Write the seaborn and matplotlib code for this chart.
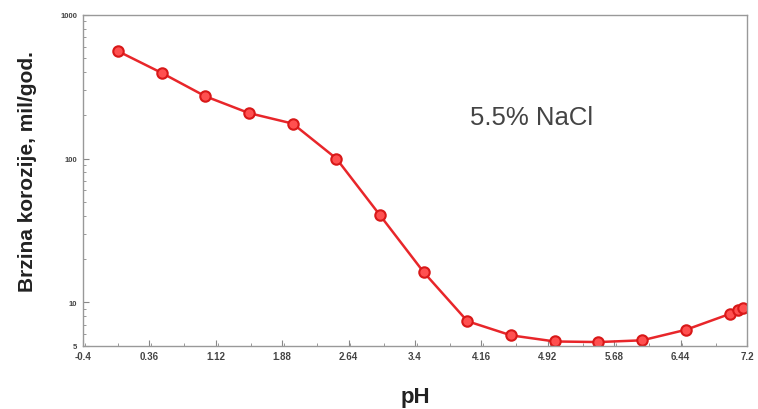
import matplotlib
matplotlib.use("Agg")
import matplotlib.pyplot as plt
import matplotlib.ticker as mticker
import pandas as pd
import seaborn as sns

# values
ph = [0.0, 0.5, 1.0, 1.5, 2.0, 2.5, 3.0, 3.5, 4.0, 4.5, 5.0, 5.5, 6.0, 6.5, 7.0, 7.1, 7.15]
rate = [558, 394, 271, 207, 175, 100, 40.3, 16.2, 7.4, 5.9, 5.35, 5.3, 5.45, 6.45, 8.3, 8.8, 9.15]

x_ticks = [-0.4, 0.36, 1.12, 1.88, 2.64, 3.4, 4.16, 4.92, 5.68, 6.44, 7.2]
x_tick_labels = ["-0.4", "0.36", "1.12", "1.88", "2.64", "3.4", "4.16", "4.92", "5.68", "6.44", "7.2"]
y_ticks = [5, 10, 100, 1000]
y_tick_labels = ["5", "10", "100", "1000"]

df = pd.DataFrame({"pH": ph, "rate": rate})

sns.set_style("ticks")
plt.rcParams["font.family"] = ["Liberation Sans", "DejaVu Sans"]

fig = plt.figure(figsize=(7.58, 4.10), dpi=100)
ax = fig.add_axes([0.1095, 0.1544, 0.876, 0.8073])

sns.lineplot(
    data=df,
    x="pH",
    y="rate",
    ax=ax,
    color="#e8262a",
    linewidth=1.8,
    marker="o",
    markersize=7.5,
    markerfacecolor="#ff5050",
    markeredgecolor="#d81818",
    markeredgewidth=1.5,
)

ax.set_yscale("log")
ax.set_xlim(-0.4, 7.2)
ax.set_ylim(5, 1000)

ax.set_xticks(x_ticks)
ax.set_xticklabels(x_tick_labels, fontsize=7, fontweight="bold", color="#444444")
ax.xaxis.set_minor_locator(mticker.MultipleLocator(0.38))

ax.set_yticks(y_ticks)
ax.set_yticklabels(y_tick_labels, fontsize=5.5, fontweight="bold", color="#444444")
ax.yaxis.set_minor_locator(mticker.LogLocator(base=10, subs=range(2, 10)))
ax.yaxis.set_minor_formatter(mticker.NullFormatter())

ax.tick_params(axis="both", which="major", direction="in", length=4, width=0.8, color="#888888", pad=4)
ax.tick_params(axis="both", which="minor", direction="in", length=2, width=0.6, color="#888888")

for side in ["left", "bottom", "top", "right"]:
    ax.spines[side].set_color("#999999")
    ax.spines[side].set_linewidth(1.0)

ax.set_xlabel("pH", fontsize=16, fontweight="bold", color="#222222", labelpad=18)
ax.set_ylabel("Brzina korozije, mil/god.", fontsize=15, fontweight="bold", color="#222222")
ax.yaxis.set_label_coords(-0.07, 0.53)

ax.text(0.583, 0.691, "5.5% NaCl", transform=ax.transAxes, fontsize=18.5,
        color="#444444", va="center", ha="left")

fig.savefig("out.png", dpi=100)
